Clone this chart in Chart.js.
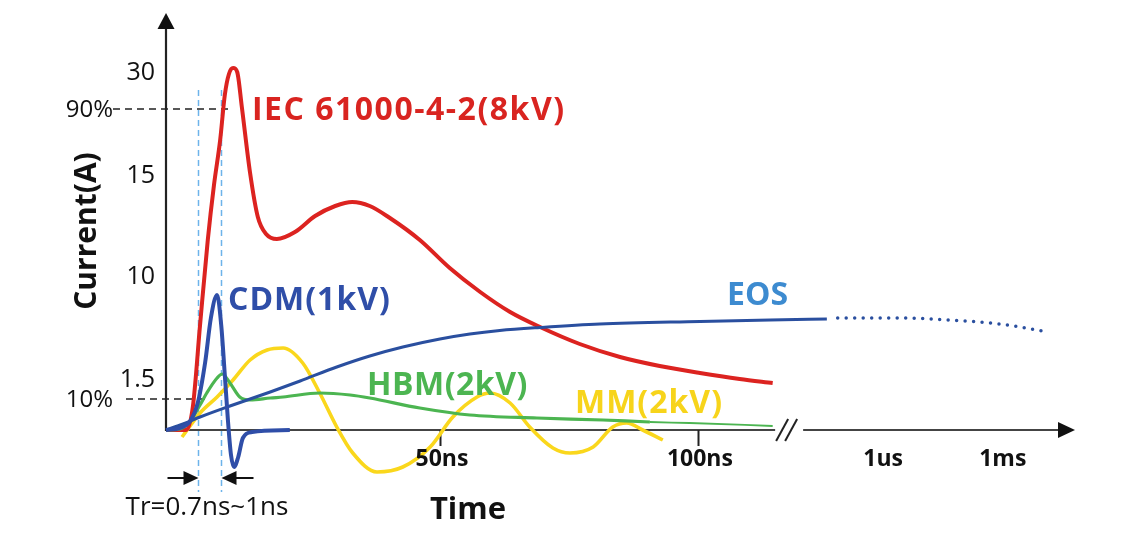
<!DOCTYPE html>
<html>
<head>
<meta charset="utf-8">
<title>ESD / EOS current waveforms</title>
<script src="https://cdn.jsdelivr.net/npm/chart.js@4.4.1/dist/chart.umd.min.js"></script>
<style>
  html, body { margin: 0; padding: 0; background: #fff; }
  #wrap { width: 1122px; height: 548px; }
</style>
</head>
<body>
<div id="wrap"><canvas id="esdChart"></canvas></div>
<script>
// Schematic sketch: x is time in ns (compressed after the axis break), y is current in drawing units.

// IEC 61000-4-2 (8kV) gun discharge
const iecX = [-3.1, 0.8, 2.1, 3.5, 5.0, 6.2, 7.4, 8.3, 9.1, 9.9, 10.7, 11.6, 13.2, 14.7, 16.3, 18.4, 21.9, 25.8, 29.7, 33.0, 36.4, 40.3, 46.1, 51.9, 57.8, 63.6, 69.4, 77.1, 84.9, 92.6, 100.4, 108.1, 114.5];
const iecY = [0, 0, 2.3, 10.5, 19.0, 24.5, 29.0, 33.5, 35.6, 36.2, 35.8, 32.3, 25.7, 21.3, 19.6, 19.1, 19.8, 21.4, 22.4, 22.8, 22.4, 21.2, 19.0, 16.2, 13.8, 11.8, 10.3, 8.6, 7.3, 6.4, 5.7, 5.1, 4.7];

// CDM (1kV)
const cdmX = [-3.1, -0.4, 1.6, 3.1, 4.5, 5.6, 6.8, 7.6, 8.3, 8.9, 9.5, 10.1, 10.9, 11.8, 13.6, 20.9];
const cdmY = [0, 0.2, 0.9, 2.8, 6.8, 11.2, 13.5, 10.5, 5.5, 1.0, -2.5, -3.7, -2.7, -0.8, -0.2, 0];

// EOS, solid part then the dotted tail past the break
const eosX = [-3.1, 0.2, 3.5, 9.3, 17.1, 22.9, 30.0, 36.4, 42.8, 50.0, 55.8, 61.6, 69.4, 81.0, 100.4, 114.0, 125.0];
const eosY = [0, 0.6, 1.3, 2.4, 3.8, 4.9, 6.3, 7.4, 8.3, 9.1, 9.6, 9.95, 10.25, 10.6, 10.85, 11.0, 11.1];
const eosTailX = [127.1, 139.1, 148.8, 158.5, 166.9];
const eosTailY = [11.2, 11.2, 11.0, 10.6, 9.9];

// HBM (2kV)
const hbmX = [-3.1, -0.4, 1.6, 3.5, 4.8, 6.8, 7.8, 9.3, 11.2, 13.2, 17.1, 19.6, 26.7, 32.6, 36.4, 46.1, 55.8, 68.8, 81.6, 90.7, 98.4, 114.5];
const hbmY = [0, 0.1, 0.9, 2.5, 3.7, 5.2, 5.6, 4.7, 3.3, 3.0, 3.2, 3.3, 3.7, 3.5, 3.2, 2.2, 1.5, 1.2, 1.0, 0.8, 0.7, 0.4];

// MM (2kV)
const mmX = [0, 3.5, 6.8, 9.9, 13.2, 16.5, 19.6, 23.4, 26.7, 30.0, 33.1, 37.8, 42.8, 48.1, 52.5, 57.2, 59.7, 63.6, 67.4, 71.9, 75.2, 79.7, 83.5, 86.2, 89.3, 93.2];
const mmY = [-0.7, 1.7, 3.3, 5.0, 7.0, 8.0, 8.2, 6.7, 3.7, 0.3, -2.3, -4.2, -3.7, -1.7, 1.3, 3.3, 3.7, 2.7, 0.3, -1.8, -2.3, -1.7, 0.3, 0.7, 0, -1.0];

// axis ticks
const yTickPos = [35.7, 25.4, 15.3, 5.0];
const yTickLabels = ['30', '15', '10', '1.5'];
const pctPos = [32.1, 3.1];
const pctLabels = ['90%', '10%'];
const xTickPos = [50, 100];
const xTickLabels = ['50ns', '100ns'];
const xFarPos = [135.9, 159.1];
const xFarLabels = ['1us', '1ms'];
const trPos = [3.1, 7.6];   // 10% and 90% crossing of the IEC rise
const breakAt = 117.3;

function pts(xs, ys) {
    return xs.map((x, i) => ({ x: x, y: ys[i] }));
}

const FONT = '"Open Sans", "DejaVu Sans", sans-serif';

function arrowHead(ctx, tipX, tipY, dx, dy, len, half) {
    // dx,dy = unit direction the arrow points to
    const bx = tipX - dx * len, by = tipY - dy * len;
    ctx.beginPath();
    ctx.moveTo(tipX, tipY);
    ctx.lineTo(bx - dy * half, by + dx * half);
    ctx.lineTo(bx + dy * half, by - dx * half);
    ctx.closePath();
    ctx.fill();
}

const sketchPlugin = {
    id: 'sketch',
    beforeDatasetsDraw(chart) {
        const ctx = chart.ctx;
        const xs = chart.scales.x, ys = chart.scales.y;
        const ox = xs.getPixelForValue(xs.min);
        const oy = ys.getPixelForValue(0);
        const top = ys.getPixelForValue(ys.max);
        const right = xs.getPixelForValue(xs.max);
        ctx.save();

        // rise time guides
        ctx.strokeStyle = '#6db3ea';
        ctx.lineWidth = 1.5;
        ctx.setLineDash([6, 4]);
        trPos.forEach(v => {
            const px = Math.round(xs.getPixelForValue(v)) + 0.5;
            ctx.beginPath();
            ctx.moveTo(px, ys.getPixelForValue(34));
            ctx.lineTo(px, ys.getPixelForValue(-6.2));
            ctx.stroke();
        });

        // 90% / 10% levels
        ctx.strokeStyle = '#222';
        ctx.lineWidth = 1.6;
        ctx.setLineDash([7, 5]);
        const pctStart = [ox - 53, ox - 40];
        const pctEnd = [9.3, 5.4];
        pctPos.forEach((v, i) => {
            const py = ys.getPixelForValue(v);
            ctx.beginPath();
            ctx.moveTo(pctStart[i], py);
            ctx.lineTo(xs.getPixelForValue(pctEnd[i]), py);
            ctx.stroke();
        });
        ctx.setLineDash([]);

        // axes
        ctx.strokeStyle = '#222';
        ctx.fillStyle = '#111';
        ctx.lineWidth = 2.2;
        ctx.beginPath();
        ctx.moveTo(ox, oy + 1);
        ctx.lineTo(ox, top + 10);
        ctx.stroke();
        arrowHead(ctx, ox, top - 2, 0, -1, 16, 8.5);

        const b = xs.getPixelForValue(breakAt);
        ctx.strokeStyle = '#444';
        ctx.beginPath();
        ctx.moveTo(ox, oy);
        ctx.lineTo(b - 12, oy);
        ctx.moveTo(b + 16, oy);
        ctx.lineTo(right - 10, oy);
        ctx.stroke();
        ctx.fillStyle = '#111';
        arrowHead(ctx, right, oy, 1, 0, 17, 8);
        // break marks
        ctx.strokeStyle = '#222';
        ctx.lineWidth = 2;
        [-5, 4].forEach(off => {
            ctx.beginPath();
            ctx.moveTo(b + off - 6, oy + 11);
            ctx.lineTo(b + off + 6, oy - 11);
            ctx.stroke();
        });

        // x tick marks
        ctx.lineWidth = 2;
        xTickPos.forEach(v => {
            const px = Math.round(xs.getPixelForValue(v)) + 0.5;
            ctx.beginPath();
            ctx.moveTo(px, oy);
            ctx.lineTo(px, oy + 16);
            ctx.stroke();
        });
        ctx.restore();
    },
    afterDatasetsDraw(chart) {
        const ctx = chart.ctx;
        const xs = chart.scales.x, ys = chart.scales.y;
        const ox = xs.getPixelForValue(xs.min);
        const oy = ys.getPixelForValue(0);
        ctx.save();
        ctx.fillStyle = '#111';
        ctx.textBaseline = 'middle';

        // y tick labels
        ctx.font = '25px ' + FONT;
        ctx.textAlign = 'right';
        yTickPos.forEach((v, i) => ctx.fillText(yTickLabels[i], ox - 11, ys.getPixelForValue(v)));
        ctx.font = '24px ' + FONT;
        pctPos.forEach((v, i) => ctx.fillText(pctLabels[i], ox - 53, ys.getPixelForValue(v) + 1));

        // x tick labels
        ctx.font = 'bold 23px ' + FONT;
        ctx.textAlign = 'center';
        xTickPos.forEach((v, i) => ctx.fillText(xTickLabels[i], xs.getPixelForValue(v) + 2, oy + 29));
        xFarPos.forEach((v, i) => ctx.fillText(xFarLabels[i], xs.getPixelForValue(v), oy + 29));

        // axis titles
        ctx.font = 'bold 31px ' + FONT;
        ctx.fillText('Time', 468, 510);
        ctx.save();
        ctx.translate(87, 231);
        ctx.rotate(-Math.PI / 2);
        ctx.font = 'bold 30px ' + FONT;
        ctx.fillText('Current(A)', 0, 0);
        ctx.restore();

        // rise time note with arrows
        const t1 = Math.round(xs.getPixelForValue(trPos[0])) + 0.5;
        const t2 = Math.round(xs.getPixelForValue(trPos[1])) + 0.5;
        const ay = 478;
        ctx.strokeStyle = '#111';
        ctx.lineWidth = 2;
        ctx.beginPath();
        ctx.moveTo(t1 - 31, ay);
        ctx.lineTo(t1 - 10, ay);
        ctx.moveTo(t2 + 10, ay);
        ctx.lineTo(t2 + 32, ay);
        ctx.stroke();
        arrowHead(ctx, t1, ay, 1, 0, 15, 7);
        arrowHead(ctx, t2, ay, -1, 0, 15, 7);
        ctx.font = '26px ' + FONT;
        ctx.fillText('Tr=0.7ns~1ns', 207, 508);

        // series names
        ctx.textAlign = 'left';
        ctx.textBaseline = 'alphabetic';
        const names = [
            ['IEC 61000-4-2(8kV)', '#d92420', 252, 120, '1.5px'],
            ['CDM(1kV)', '#2f4ea8', 228, 310, '1px'],
            ['EOS', '#3d8bd0', 727, 305, '0px'],
            ['HBM(2kV)', '#4cb551', 367, 395, '0.5px'],
            ['MM(2kV)', '#f7d41b', 575, 413, '1px']
        ];
        ctx.font = 'bold 32px ' + FONT;
        names.forEach(n => {
            ctx.fillStyle = n[1];
            ctx.letterSpacing = n[4];
            ctx.fillText(n[0], n[2], n[3]);
        });
        ctx.letterSpacing = '0px';
        ctx.restore();
    }
};

const ctx = document.getElementById('esdChart').getContext('2d');
const esdChart = new Chart(ctx, {
    type: 'line',
    data: {
        datasets: [
            { label: 'CDM(1kV)', data: pts(cdmX, cdmY), borderColor: '#2f4ea8', borderWidth: 4, order: 0 },
            { label: 'EOS', data: pts(eosX, eosY), borderColor: '#2a4f9f', borderWidth: 3, order: 1 },
            { label: 'EOS tail', data: pts(eosTailX, eosTailY), borderColor: '#2a4f9f', borderWidth: 3.5,
              borderDash: [0, 8.5], borderCapStyle: 'round', order: 1 },
            { label: 'HBM(2kV)', data: pts(hbmX, hbmY), borderColor: '#4cb551', borderWidth: 3.2, order: 2,
              segment: { borderWidth: c => c.p0.parsed.x > 85 ? 1.8 : undefined } },
            { label: 'IEC 61000-4-2(8kV)', data: pts(iecX, iecY), borderColor: '#dc2320', borderWidth: 4, order: 3 },
            { label: 'MM(2kV)', data: pts(mmX, mmY), borderColor: '#fad71c', borderWidth: 3.6, order: 4 }
        ]
    },
    options: {
        responsive: true,
        maintainAspectRatio: false,
        animation: false,
        layout: { padding: { left: 166, right: 47, top: 15, bottom: 68 } },
        elements: {
            point: { radius: 0 },
            line: { cubicInterpolationMode: 'monotone', fill: false, borderJoinStyle: 'round' }
        },
        datasets: { line: { clip: false } },
        plugins: {
            legend: { display: false },
            tooltip: { enabled: false }
        },
        scales: {
            x: { type: 'linear', min: -3.1, max: 173.1, display: false },
            y: { type: 'linear', min: -5, max: 41.5, display: false }
        }
    },
    plugins: [sketchPlugin]
});
</script>
</body>
</html>
